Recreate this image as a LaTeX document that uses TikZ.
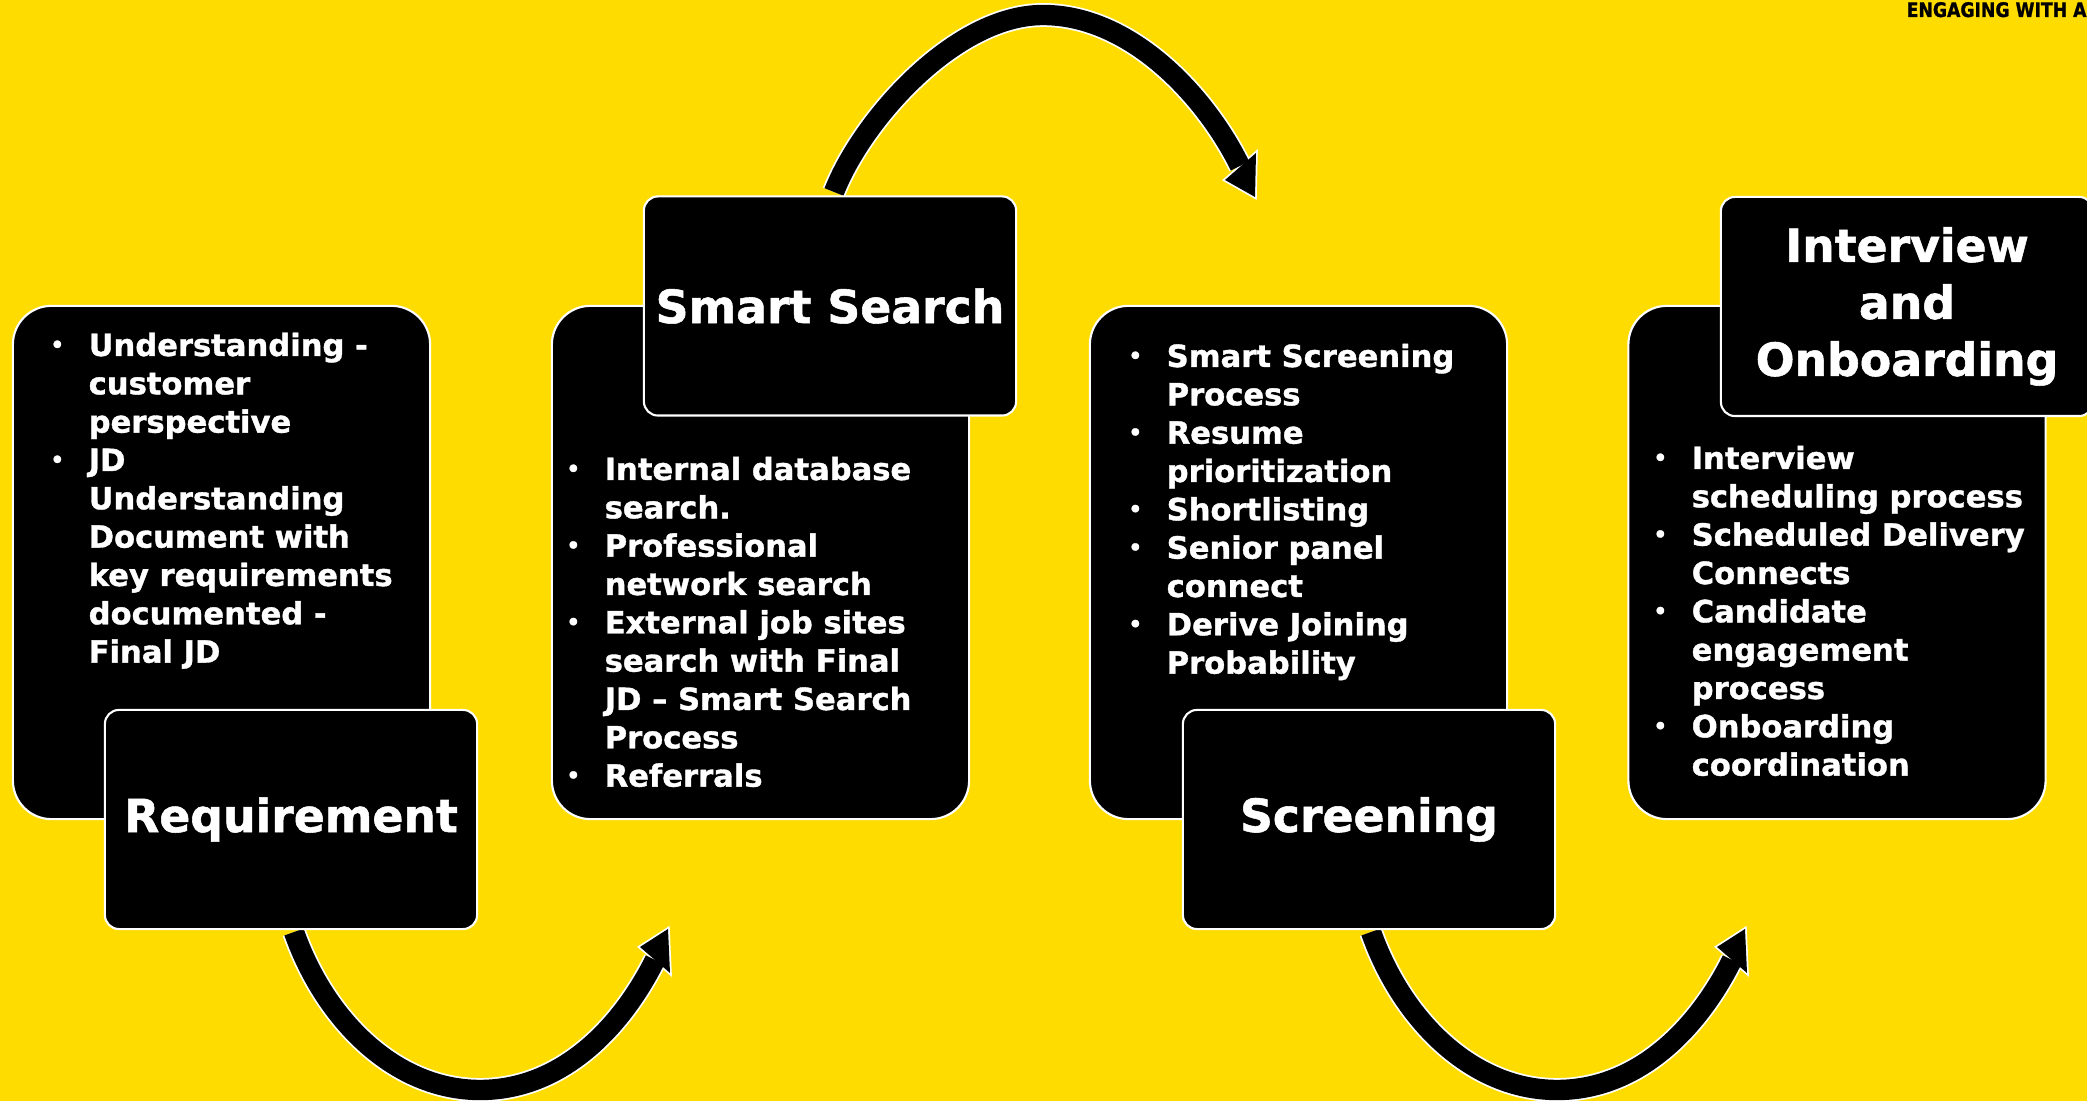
\documentclass[tikz,border=0pt]{standalone}
\usepackage{fontspec}
\usepackage{graphicx}
\setmainfont{DejaVu Sans}[BoldFeatures={FakeBold=1.2}]
\definecolor{slideyellow}{RGB}{255,220,0}

\tikzset{
	bigbox/.style={draw=white, line width=0.6pt, fill=black, rounded corners=11pt, inner sep=0pt, minimum width=4.17cm, minimum height=5.13cm},
	tagbox/.style={draw=white, line width=0.6pt, fill=black, rounded corners=4pt, inner sep=0pt, minimum width=3.72cm, minimum height=2.19cm, text=white, align=center, font=\bfseries\fontsize{13pt}{16.2pt}\selectfont},
	pointlist/.style={anchor=base west, inner sep=0pt, text=white, font=\bfseries},
	halo/.style={white, line width=6.8pt},
	curvearrow/.style={black, line width=5.8pt},
	headhalo/.style={draw=white, fill=white, line width=1pt},
	headfill/.style={fill=black}
}
\newcommand\bul{\leavevmode\llap{\raisebox{1.1pt}{\fontsize{6pt}{6pt}\selectfont\textbullet}\hspace{7pt}}}
\newcommand\points[1]{\parbox[t]{5cm}{\fontsize{8.7pt}{10.9pt}\selectfont\raggedright #1}}

\begin{document}
\begin{tikzpicture}[x=0.01cm, y=-0.01cm]
	\useasboundingbox (0,0) rectangle (2087,1101);
	\clip (0,0) rectangle (2087,1101);
	\fill[slideyellow] (0,0) rectangle (2087,1101);

	\node (brand) [anchor=base west, inner sep=0pt, font=\bfseries\fontsize{5.7pt}{6pt}\selectfont] at (1906,17) {\scalebox{0.86}[1]{ENGAGING WITH A}};

	% curved arrows between the stages
	\coordinate (a1s) at (294,932);
	\coordinate (a1m) at (480,1090);
	\coordinate (a1e) at (655,960);
	\coordinate (a1t) at (668,929);
	\coordinate (a1l) at (640,947);
	\coordinate (a1r) at (670,973);
	\coordinate (a2s) at (834,192);
	\coordinate (a2m) at (1043,15);
	\coordinate (a2e) at (1240,166);
	\coordinate (a2t) at (1255,197);
	\coordinate (a2l) at (1225,180);
	\coordinate (a2r) at (1256,153);
	\coordinate (a3s) at (1371,932);
	\coordinate (a3m) at (1557,1090);
	\coordinate (a3e) at (1732,960);
	\coordinate (a3t) at (1745,929);
	\coordinate (a3l) at (1717,947);
	\coordinate (a3r) at (1747,973);

	\draw[halo] (a1s) .. controls +(31,88) and +(-85,0) .. (a1m) .. controls +(80,0) and +(-35,70) .. (a1e);
	\draw[halo] (a2s) .. controls +(28,-72) and +(-88,0) .. (a2m) .. controls +(87,0) and +(-35,-71) .. (a2e);
	\draw[halo] (a3s) .. controls +(31,88) and +(-85,0) .. (a3m) .. controls +(80,0) and +(-35,70) .. (a3e);
	\foreach \n in {1,2,3}
		\filldraw[headhalo] (a\n t) -- (a\n l) -- (a\n r) -- cycle;
	\draw[curvearrow] (a1s) .. controls +(31,88) and +(-85,0) .. (a1m) .. controls +(80,0) and +(-35,70) .. (a1e);
	\draw[curvearrow] (a2s) .. controls +(28,-72) and +(-88,0) .. (a2m) .. controls +(87,0) and +(-35,-71) .. (a2e);
	\draw[curvearrow] (a3s) .. controls +(31,88) and +(-85,0) .. (a3m) .. controls +(80,0) and +(-35,70) .. (a3e);
	\foreach \n in {1,2,3}
		\fill[headfill] (a\n t) -- (a\n l) -- (a\n r) -- cycle;

	% stage boxes
	\node (reqbox) [bigbox] at (221.5,562.5) {};
	\node (reqtag) [tagbox] at (291,819.5) {Requirement};
	\node (reqpts) [pointlist] at (88,356) {\points{\bul Understanding -\\customer\\perspective\\\bul JD\\Understanding\\Document with\\key requirements\\documented -\\Final JD}};

	\node (srchbox) [bigbox] at (760.5,562.5) {};
	\node (srchtag) [tagbox] at (830,306) {Smart Search};
	\node (srchpts) [pointlist] at (604,480) {\points{\bul Internal database\\search.\\\bul Professional\\network search\\\bul External job sites\\search with Final\\JD \textendash{} Smart Search\\Process\\\bul Referrals}};

	\node (scrbox) [bigbox] at (1298.5,562.5) {};
	\node (scrtag) [tagbox] at (1369,819.5) {\raisebox{2.5pt}{Screening}};
	\node (scrpts) [pointlist] at (1166,367) {\points{\bul Smart Screening\\Process\\\bul Resume\\prioritization\\\bul Shortlisting\\\bul Senior panel\\connect\\\bul Derive Joining\\Probability}};

	\node (onbbox) [bigbox] at (1837,562.5) {};
	\node (onbtag) [tagbox] at (1907,306.5) {Interview\\and\\Onboarding};
	\node (onbpts) [pointlist] at (1691,469) {\points{\bul Interview\\scheduling process\\\bul Scheduled Delivery\\Connects\\\bul Candidate\\engagement\\process\\\bul Onboarding\\coordination}};
\end{tikzpicture}
\end{document}
